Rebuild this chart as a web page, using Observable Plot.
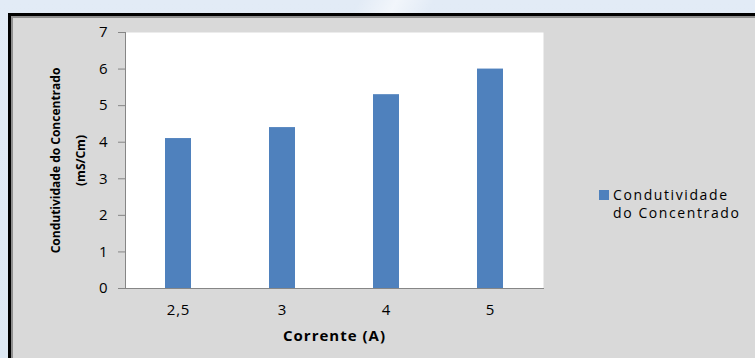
<!DOCTYPE html>
<html>
<head>
<meta charset="utf-8">
<script src="https://cdn.jsdelivr.net/npm/d3@7"></script>
<script src="https://cdn.jsdelivr.net/npm/@observablehq/plot@0.6"></script>
<style>
  html, body { margin: 0; padding: 0; }
  body {
    width: 755px; height: 358px; overflow: hidden; position: relative;
    background:
      linear-gradient(118deg, rgba(255,255,255,0) 38%, rgba(255,255,255,0.55) 42%, rgba(255,255,255,0) 46%),
      linear-gradient(180deg, #e2ebf6 0%, #dde8f3 100%);
    font-family: "Open Sans", sans-serif;
  }
  #panel {
    position: absolute; left: 8px; top: 13px; width: 820px; height: 420px;
    border: 3px solid #000; background: #d9d9d9;
    box-shadow: inset 2px 2px 0 #8f8f8f;
  }
  #chart { position: absolute; left: 0; top: 0; }
  #legend {
    position: absolute; left: 599px; top: 186px;
    font-size: 14px; letter-spacing: 1.6px; line-height: 18px; color: #000;
  }
  #legend .swatch {
    position: absolute; left: 0; top: 4px; width: 10px; height: 10px;
  }
  #legend .text { margin-left: 14px; }
</style>
</head>
<body>
<div id="panel"></div>
<div id="chart"></div>
<div id="legend"></div>
<script>
// Concentrate conductivity measured at each applied current
const currents = ["2,5", "3", "4", "5"];
const conductivity = [4.1, 4.4, 5.3, 6.0];
const yTicks = [0, 1, 2, 3, 4, 5, 6, 7];
const seriesName = "Condutividade do Concentrado";
const xTitle = "Corrente (A)";
const yTitleLines = ["Condutividade do Concentrado", "(mS/Cm)"];

const barColor = "#4f81bd";
const axisColor = "#868686";

const data = currents.map((c, i) => ({current: c, value: conductivity[i]}));

const chart = Plot.plot({
  width: 755,
  height: 358,
  marginLeft: 125,
  marginRight: 212,
  marginTop: 32,
  marginBottom: 70,
  style: {background: "transparent", fontFamily: "Open Sans", color: "#000", overflow: "visible"},
  x: {domain: currents, paddingInner: 0.75, paddingOuter: 0.375},
  y: {domain: [0, 7]},
  marks: [
    Plot.frame({fill: "white", stroke: null}),
    Plot.barY(data, {x: "current", y: "value", fill: barColor}),
    Plot.frame({anchor: "left", stroke: axisColor}),
    Plot.frame({anchor: "bottom", stroke: axisColor}),
    // category labels under the bars
    Plot.axisX({
      tickSize: 0, tickPadding: 16,
      label: xTitle, labelAnchor: "center", labelArrow: "none", labelOffset: 52
    }),
    // value ticks on the left
    Plot.axisY({
      ticks: yTicks, tickFormat: "d", tickSize: 7, tickPadding: 10, stroke: axisColor,
      label: null
    }),
    // two-line vertical title
    Plot.axisY({
      ticks: [], label: yTitleLines[0], labelAnchor: "center", labelArrow: "none",
      labelOffset: 74, dy: -7
    }),
    Plot.axisY({
      ticks: [], label: yTitleLines[1], labelAnchor: "center", labelArrow: "none",
      labelOffset: 49, dy: -7
    })
  ]
});

const svg = d3.select(chart);
// tick label typography
svg.selectAll("[aria-label='x-axis tick label'] text, [aria-label='y-axis tick label'] text")
  .attr("font-size", 15).attr("letter-spacing", 0.8);
// axis titles in bold
svg.selectAll("[aria-label='x-axis label'] text")
  .attr("font-weight", "bold").attr("font-size", 15).attr("letter-spacing", 1);
svg.selectAll("[aria-label='y-axis label'] text")
  .attr("font-weight", "bold").attr("font-size", 12);

document.getElementById("chart").appendChild(chart);

document.getElementById("legend").innerHTML =
  `<div class="swatch" style="background:${barColor}"></div>` +
  `<div class="text">${seriesName.replace(" do ", "<br>do ")}</div>`;
</script>
</body>
</html>
